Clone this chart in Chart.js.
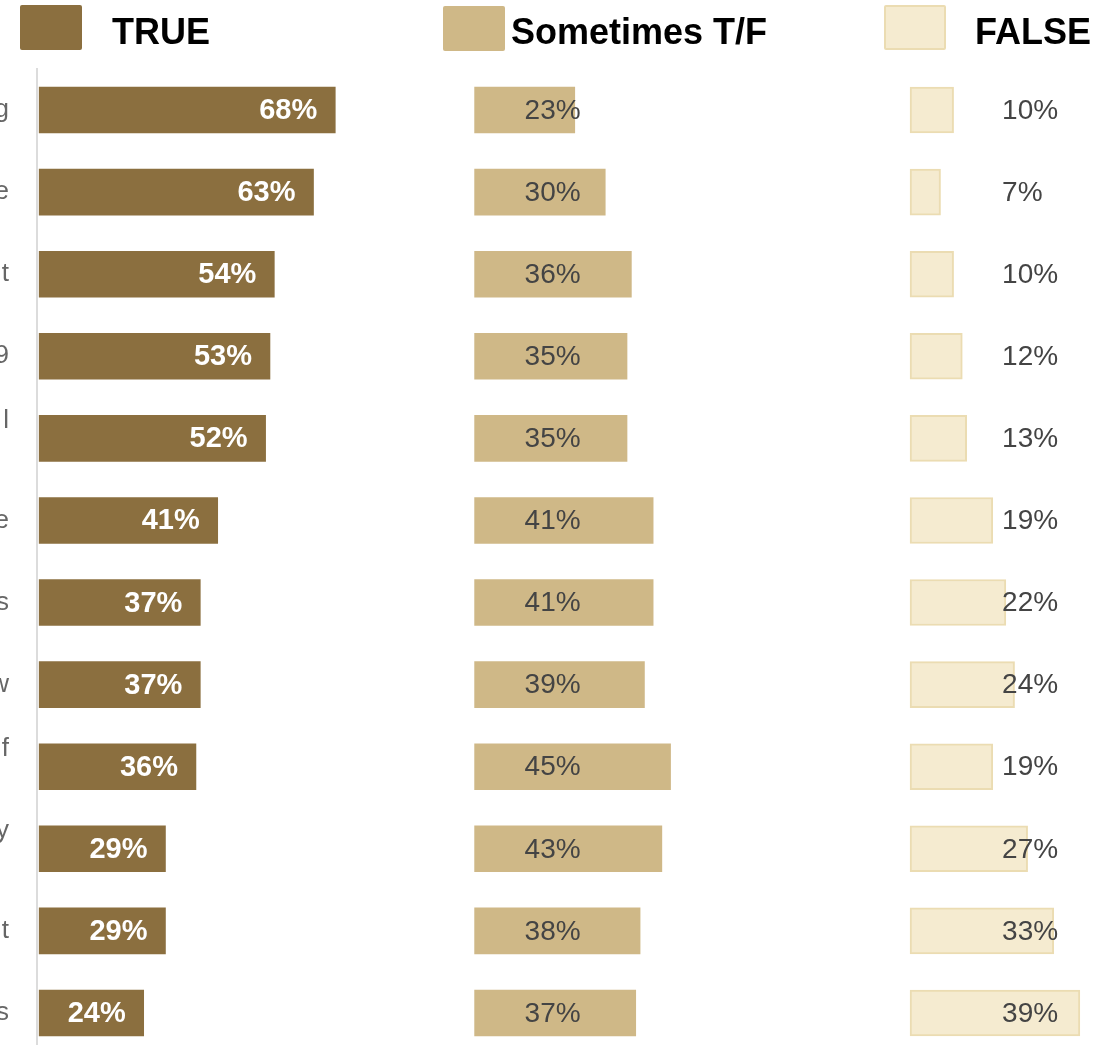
<!DOCTYPE html>
<html>
<head>
<meta charset="utf-8">
<script src="https://cdn.jsdelivr.net/npm/chart.js@4.4.1/dist/chart.umd.min.js"></script>
<style>
  html, body { margin: 0; padding: 0; background: #fff; overflow: hidden; width: 1106px; height: 1045px; }
  #wrap { position: relative; width: 1106px; height: 1045px; }
  #chart { position: absolute; left: 0; top: 0; }
  .swatch { position: absolute; width: 62px; height: 45px; border-radius: 2px; box-sizing: border-box; }
  .legend-text { position: absolute; top: 12px; font: bold 36px "Liberation Sans", Arial, sans-serif; color: #000; line-height: 40px; white-space: nowrap; }
</style>
</head>
<body>
<div id="wrap">
  <canvas id="chart" width="1106" height="1054"></canvas>
  <div class="swatch" style="left:20px; top:5px; background:#8B6F3F;"></div>
  <div class="legend-text" style="left:112px;">TRUE</div>
  <div class="swatch" style="left:443px; top:6px; background:#CFB887;"></div>
  <div class="legend-text" style="left:511px;">Sometimes T/F</div>
  <div class="swatch" style="left:884px; top:5px; background:#F5EBD0; border:2px solid #EBDCB2;"></div>
  <div class="legend-text" style="left:975px;">FALSE</div>
</div>
<script>
// --- data (category labels are cut off at the left edge in the source) ---
const categories = ['g', 'e', 't', '9', ['l', ''], 'e', 's', 'w', ['f', ''], ['y', ''], 't', 's'];
const trueVals      = [68, 63, 54, 53, 52, 41, 37, 37, 36, 29, 29, 24];
const sometimesVals = [23, 30, 36, 35, 35, 41, 41, 39, 45, 43, 38, 37];
const falseVals     = [10,  7, 10, 12, 13, 19, 22, 24, 19, 27, 33, 39];

// each answer gets its own 100-point column on the shared x axis
const COL_START = [0, 100, 200];

const FONT = '"Liberation Sans", Arial, sans-serif';

// draws the percentage next to / inside each bar
const barLabels = {
  id: 'barLabels',
  afterDatasetsDraw(chart) {
    const ctx = chart.ctx;
    ctx.save();
    ctx.textBaseline = 'middle';
    chart.data.datasets.forEach((ds, di) => {
      const meta = chart.getDatasetMeta(di);
      meta.data.forEach((bar, i) => {
        const txt = ds.values[i] + '%';
        const left = Math.min(bar.x, bar.base);
        const right = Math.max(bar.x, bar.base);
        if (ds.labelMode === 'inside') {
          ctx.font = 'bold 29px ' + FONT;
          ctx.fillStyle = '#fff';
          ctx.textAlign = 'right';
          ctx.fillText(txt, right - 18, bar.y + 1);
        } else {
          ctx.font = '28px ' + FONT;
          ctx.fillStyle = '#444';
          ctx.textAlign = 'left';
          ctx.fillText(txt, left + ds.labelShift, bar.y + 1);
        }
      });
    });
    ctx.restore();
  }
};

new Chart(document.getElementById('chart'), {
  type: 'bar',
  data: {
    labels: categories,
    datasets: [
      {
        label: 'TRUE',
        values: trueVals,
        data: trueVals.map(v => [COL_START[0], COL_START[0] + v]),
        backgroundColor: '#8B6F3F',
        labelMode: 'inside'
      },
      {
        label: 'Sometimes T/F',
        values: sometimesVals,
        data: sometimesVals.map(v => [COL_START[1], COL_START[1] + v]),
        backgroundColor: '#CFB887',
        labelMode: 'after',
        labelShift: 50
      },
      {
        label: 'FALSE',
        values: falseVals,
        data: falseVals.map(v => [COL_START[2], COL_START[2] + v]),
        backgroundColor: '#F5EBD0',
        borderColor: '#EBDCB2',
        borderWidth: 2,
        borderSkipped: false,
        labelMode: 'after',
        labelShift: 92
      }
    ]
  },
  options: {
    indexAxis: 'y',
    responsive: false,
    animation: false,
    grouped: false,
    barThickness: 46,
    layout: { padding: { top: 69, left: 0, right: 0, bottom: 0 } },
    plugins: {
      legend: { display: false },
      tooltip: { enabled: false }
    },
    scales: {
      x: {
        display: false,
        min: -0.5,
        max: 245
      },
      y: {
        grid: { display: false, drawTicks: false },
        border: { display: true, color: '#dcdcdc', width: 2 },
        ticks: {
          color: '#666',
          padding: 28,
          font: { family: FONT, size: 26, lineHeight: 1.385 }
        },
        afterFit(scale) {
          scale.width = 37;
          // the tick padding would otherwise eat into the bottom of the plot
          scale.paddingTop = 0;
          scale.paddingBottom = 0;
        }
      }
    }
  },
  plugins: [barLabels]
});
</script>
</body>
</html>
